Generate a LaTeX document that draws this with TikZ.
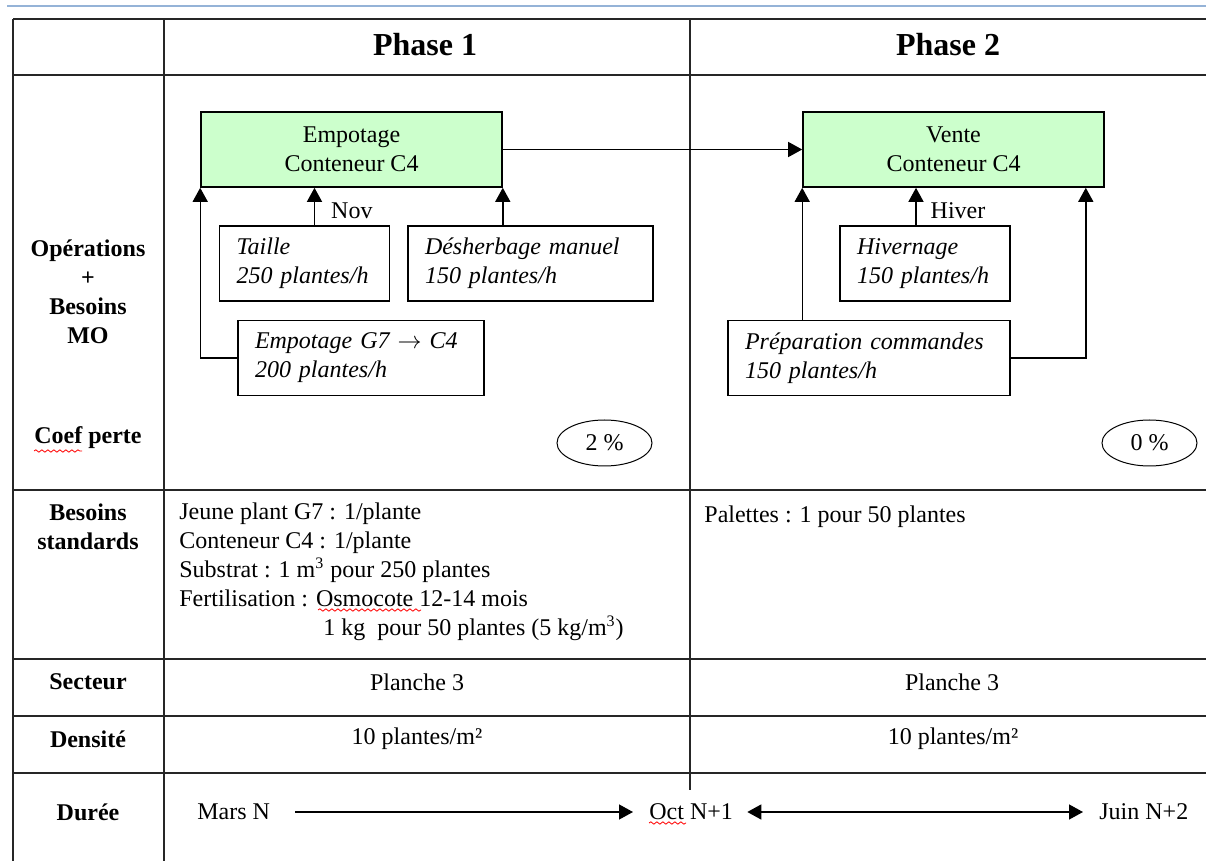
\documentclass[12pt,tikz,border=0pt]{standalone}
\usepackage{fontspec}
\setmainfont{Liberation Serif}
\usetikzlibrary{shapes,arrows.meta,decorations.pathmorphing}
\definecolor{vertclair}{HTML}{CCFFCC}
\definecolor{bleuligne}{HTML}{95B3D7}

\begin{document}
\begin{tikzpicture}[x=0.5pt,y=-0.5pt,
  grille/.style={line width=1pt,black!85},
  etape/.style={draw,line width=0.8pt,fill=vertclair,minimum width=150.5pt,minimum height=37.5pt,align=center,inner sep=0pt},
  tache/.style={draw,line width=0.7pt,inner xsep=8.5pt,inner ysep=0pt,minimum height=37.5pt,align=left,font=\itshape},
  fleche/.style={line width=0.7pt,-{Triangle[length=7pt,width=7.5pt]}},
  fleches/.style={line width=0.7pt,{Triangle[length=7pt,width=7.5pt]}-{Triangle[length=7pt,width=7.5pt]}},
  titre/.style={font=\fontsize{16}{19}\selectfont\bfseries},
  entete/.style={font=\bfseries,align=center},
  perte/.style={draw,ellipse,line width=0.5pt,minimum width=47.5pt,minimum height=23pt,inner sep=0pt},
  date/.style={inner sep=0pt,anchor=west,text height=1.6ex,text depth=0.3ex},
  souligne/.style={red,line width=0.4pt,decorate,decoration={snake,amplitude=0.6pt,segment length=3pt}}]
  %\draw[step=50,gray,very thin] (0,0) grid (1206,861);
  \useasboundingbox (0,0) rectangle (1206,861);
  \draw[bleuligne,line width=1pt] (7,6) -- (1206,6);

  \draw[grille] (13,19) -- (1206,19);
  \draw[grille] (13,75) -- (1206,75);
  \draw[grille] (13,490) -- (1206,490);
  \draw[grille] (13,659) -- (1206,659);
  \draw[grille] (13,716) -- (1206,716);
  \draw[grille] (13,773) -- (1206,773);
  \draw[grille] (13,19) -- (13,861);
  \draw[grille] (164,19) -- (164,861);
  \draw[grille] (690,19) -- (690,790);

  \node[titre] (phase1) at (425,45) {Phase 1};
  \node[titre] (phase2) at (948,45) {Phase 2};

  \node[entete] (ops) at (88,291.5) {Opérations\\+\\Besoins\\MO};
  \node[entete] (coef) at (88,438) {Coef perte};
  \node[entete] (besoins) at (88,527) {Besoins\\standards};
  \node[entete] (secteur) at (88,682) {Secteur};
  \node[entete] (densite) at (88,739) {Densité};
  \node[entete] (duree) at (88,812) {Durée};

  \node[etape] (empot) at (351.5,149.5) {Empotage\\Conteneur C4};
  \node[etape] (vente) at (953.5,149.5) {Vente\\Conteneur C4};

  \node[tache,text width=68pt] (taille) at (304.5,263.5) {Taille\\250 plantes/h};
  \node[tache,text width=105.5pt] (desherb) at (530.5,263.5) {Désherbage manuel\\150 plantes/h};
  \node[tache,text width=106pt] (empotG) at (361,358) {Empotage G7 $\rightarrow$ C4\\200 plantes/h};
  \node[tache,text width=68pt] (hivern) at (925,263.5) {Hivernage\\150 plantes/h};
  \node[tache,text width=124pt] (prepa) at (869,358) {Préparation commandes\\150 plantes/h};

  \draw[fleche] (empot) -- (vente);
  \draw[fleche] (empotG.west) -| (empot.south west);
  \draw[fleche] ([xshift=5pt]taille.north) -- ([xshift=5pt]taille.north |- empot.south)
    node[pos=0.4,right=4pt] (nov) {Nov};
  \draw[fleche] (desherb.north -| empot.south east) -- (empot.south east);
  \draw[fleche] (prepa.north -| vente.south west) -- (vente.south west);
  \draw[fleche] ([xshift=-4.5pt]hivern.north) -- ([xshift=-4.5pt]hivern.north |- vente.south)
    node[pos=0.4,right=3pt] (hiver) {Hiver};
  \draw[fleche] (prepa.east) -| ([xshift=-9.5pt]vente.south east);

  \node[perte] (perte1) at (604.5,443) {2 \%};
  \node[perte] (perte2) at (1149.5,443) {0 \%};

  \node[anchor=north west,inner sep=0pt,align=left] (std1) at (179,502)
    {Jeune plant G7 : 1/plante\\Conteneur C4 : 1/plante\\Substrat : 1 m\textsuperscript{3} pour 250 plantes\\Fertilisation : Osmocote 12-14 mois\\\hspace*{72pt}1 kg~ pour 50 plantes (5 kg/m\textsuperscript{3})};
  \node[anchor=west,inner sep=0pt] (std2) at (704,517) {Palettes : 1 pour 50 plantes};

  \node (planche1) at (417,682) {Planche 3};
  \node (planche2) at (952,682) {Planche 3};
  \node (dens1) at (417,739) {10 plantes/m²};
  \node (dens2) at (953,739) {10 plantes/m²};

  \node[date] (mars) at (197,812) {Mars N};
  \node[date] (oct) at (649,812) {Oct N+1};
  \node[date] (juin) at (1099,812) {Juin N+2};
  \draw[fleche,shorten <=12.5pt,shorten >=8pt] (mars) -- (oct);
  \draw[fleches,shorten <=7pt,shorten >=8pt] (oct) -- (juin);

  \draw[souligne] (34,451) -- (82,451);
  \draw[souligne] (318,610) -- (421,610);
  \draw[souligne] (649,823) -- (686,823);
\end{tikzpicture}
\end{document}
